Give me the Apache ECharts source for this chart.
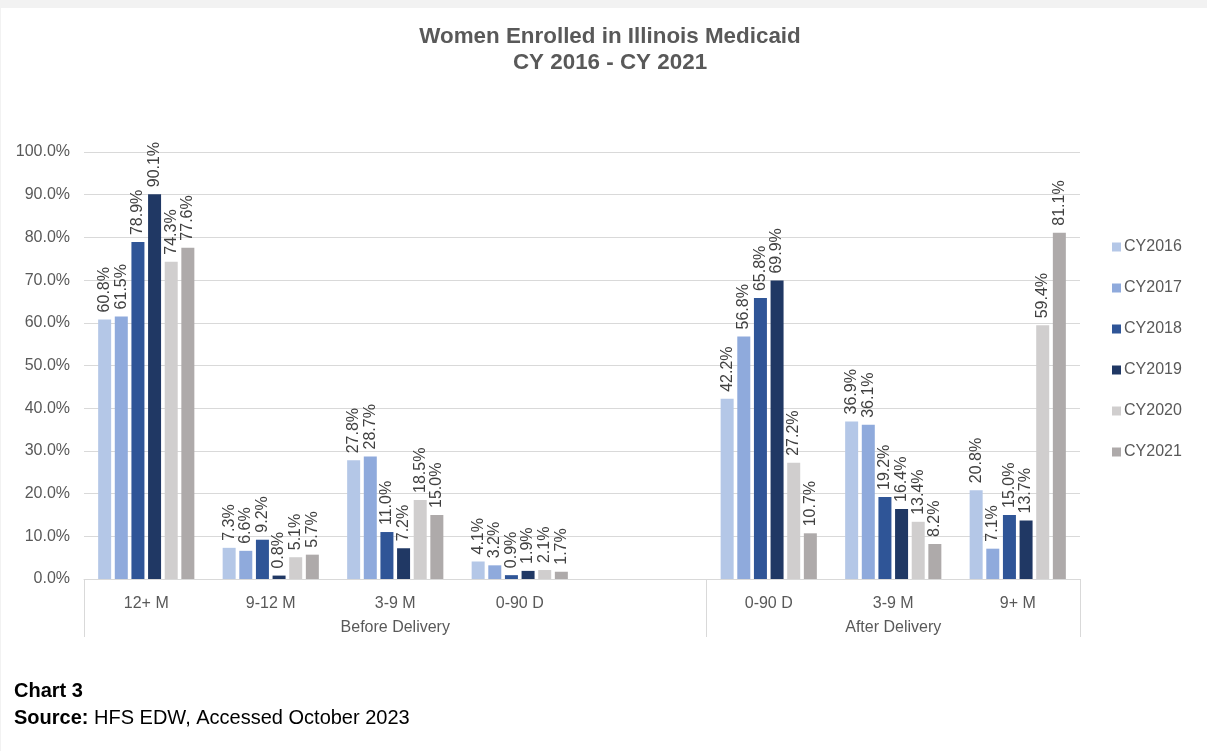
<!DOCTYPE html>
<html>
<head>
<meta charset="utf-8">
<script src="https://cdn.jsdelivr.net/npm/echarts@6/dist/echarts.min.js"></script>
<style>
  html, body { margin: 0; padding: 0; background: #f2f2f2; }
  #chart { position: absolute; left: 1px; top: 8px; width: 1206px; height: 743px; background: #ffffff; }
</style>
</head>
<body>
<div id="chart"></div>
<script>
// ---- data ----
const categories = ['12+ M', '9-12 M', '3-9 M', '0-90 D', '', '0-90 D', '3-9 M', '9+ M'];
const groupLabels = ['', '', 'Before Delivery', '', '', '', 'After Delivery', ''];
const groupBoundaryIdx = [0, 5];
const seriesNames = ['CY2016', 'CY2017', 'CY2018', 'CY2019', 'CY2020', 'CY2021'];
const cy2016 = [60.8, 7.3, 27.8, 4.1, null, 42.2, 36.9, 20.8];
const cy2017 = [61.5, 6.6, 28.7, 3.2, null, 56.8, 36.1, 7.1];
const cy2018 = [78.9, 9.2, 11.0, 0.9, null, 65.8, 19.2, 15.0];
const cy2019 = [90.1, 0.8, 7.2, 1.9, null, 69.9, 16.4, 13.7];
const cy2020 = [74.3, 5.1, 18.5, 2.1, null, 27.2, 13.4, 59.4];
const cy2021 = [77.6, 5.7, 15.0, 1.7, null, 10.7, 8.2, 81.1];
const yTicks = { min: 0, max: 100, interval: 10 };

const colors = ['#b4c7e7', '#8faadc', '#2f5597', '#203864', '#d0cece', '#aeaaaa'];
const seriesData = [cy2016, cy2017, cy2018, cy2019, cy2020, cy2021];
const FONT = '"Liberation Sans", Arial, sans-serif';

const chart = echarts.init(document.getElementById('chart'), null, { renderer: 'canvas' });

const option = {
  animation: false,
  color: colors,
  title: [
    {
      text: 'Women Enrolled in Illinois Medicaid\nCY 2016 - CY 2021',
      left: 604, top: 11, textAlign: 'center',
      textStyle: { fontFamily: FONT, fontSize: 22.4, fontWeight: 'bold', color: '#595959', lineHeight: 26 }
    },
    {
      text: '{b|Chart 3}\n{b|Source:}{r| HFS EDW, Accessed October 2023}',
      left: 8, top: 665,
      textStyle: {
        fontWeight: 'normal',
        rich: {
          b: { fontFamily: FONT, fontSize: 20, fontWeight: 'bold', color: '#000000', lineHeight: 27 },
          r: { fontFamily: FONT, fontSize: 20, fontWeight: 'normal', color: '#000000', lineHeight: 27 }
        }
      }
    }
  ],
  legend: {
    orient: 'vertical',
    left: 1106, top: 226,
    itemWidth: 9, itemHeight: 9, itemGap: 25,
    icon: 'rect',
    textStyle: { fontFamily: FONT, fontSize: 16, color: '#595959', padding: [0, 0, 0, -2] },
    data: seriesNames
  },
  grid: { left: 83, right: 127, top: 144, bottom: 172, containLabel: false },
  xAxis: [
    {
      type: 'category',
      data: categories,
      axisLine: { lineStyle: { color: '#d9d9d9', width: 1 } },
      axisTick: { show: false },
      axisLabel: { interval: 0, margin: 17, fontFamily: FONT, fontSize: 16, color: '#595959' }
    },
    {
      type: 'category',
      position: 'bottom',
      data: groupLabels,
      axisLine: { show: false },
      axisTick: {
        show: true, length: 58,
        interval: function (i) { return groupBoundaryIdx.indexOf(i) >= 0; },
        lineStyle: { color: '#d9d9d9', width: 1 }
      },
      axisLabel: { interval: 0, margin: 41, fontFamily: FONT, fontSize: 16, color: '#595959' }
    }
  ],
  yAxis: {
    type: 'value',
    min: yTicks.min, max: yTicks.max, interval: yTicks.interval,
    axisLine: { show: false },
    axisTick: { show: false },
    splitLine: { lineStyle: { color: '#d9d9d9', width: 1 } },
    axisLabel: {
      margin: 14, fontFamily: FONT, fontSize: 16, color: '#595959',
      formatter: function (v) { return v.toFixed(1) + '%'; }
    }
  },
  series: seriesNames.map(function (name, k) {
    return {
      name: name,
      type: 'bar',
      xAxisIndex: 0,
      data: seriesData[k],
      barWidth: 13,
      barGap: '28%',
      itemStyle: { color: colors[k] },
      label: {
        show: true,
        position: 'top',
        rotate: 90,
        align: 'left',
        verticalAlign: 'middle',
        distance: 7,
        fontFamily: FONT, fontSize: 16, color: '#404040',
        formatter: function (p) { return p.value == null ? '' : p.value.toFixed(1) + '%'; }
      }
    };
  })
};

chart.setOption(option);
</script>
</body>
</html>
